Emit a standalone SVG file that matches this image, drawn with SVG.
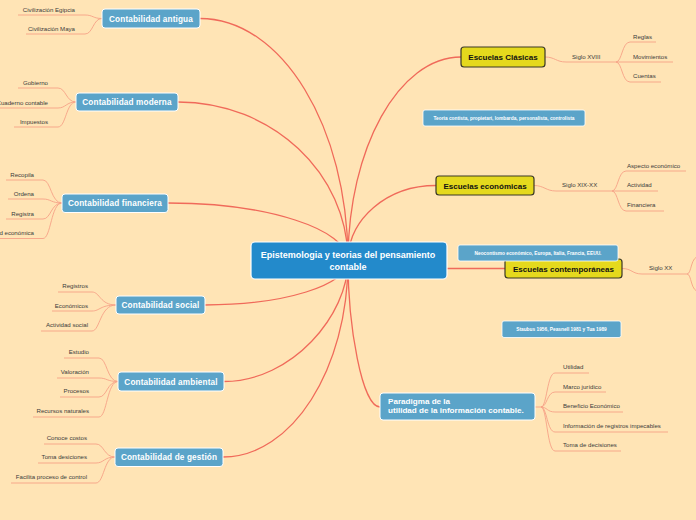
<svg xmlns="http://www.w3.org/2000/svg" width="696" height="520" viewBox="0 0 696 520">
<style>
.bg{fill:#FFE4B5}
.main{fill:none;stroke:#F06A5A;stroke-width:1.3}
.sub{fill:none;stroke:#F6A287;stroke-width:0.9}
.blue{fill:#5BA4C9;stroke:#FFFFFF;stroke-width:1}
.center{fill:#238ACB;stroke:#FFFFFF;stroke-width:1.2}
.yellow{fill:#E5D91D;stroke:#3A3826;stroke-width:1.2}
.lbl{fill:#5BA4C9;stroke:#FFFFFF;stroke-width:0.8}
.bt{font-family:"Liberation Sans",Arial,sans-serif;font-weight:bold;font-size:8.2px;fill:#FFFFFF;text-anchor:middle;letter-spacing:0.15px}
.pt{font-family:"Liberation Sans",Arial,sans-serif;font-weight:bold;font-size:8.1px;fill:#FFFFFF;text-anchor:start}
.ct{font-family:"Liberation Sans",Arial,sans-serif;font-weight:bold;font-size:9px;fill:#FFFFFF;text-anchor:middle}
.yt{font-family:"Liberation Sans",Arial,sans-serif;font-weight:bold;font-size:8px;fill:#111111;text-anchor:middle}
.lt{font-family:"Liberation Sans",Arial,sans-serif;font-weight:bold;font-size:4.8px;fill:#FFFFFF;text-anchor:middle}
.st{font-family:"Liberation Sans",Arial,sans-serif;font-size:6.1px;fill:#3B3B3B}
.sl{text-anchor:end}
</style>
<rect class="bg" x="0" y="0" width="696" height="520"/>

<g id="connectors">
  <path class="main" d="M200,18.5 C282,18.5 348,127 348,261"/>
  <path class="main" d="M178,102 C272,102 348,173 348,261"/>
  <path class="main" d="M168,203 C267,203 348,229 348,261"/>
  <path class="main" d="M205,305 C284,305 348,285 348,261"/>
  <path class="main" d="M224,381.5 C292,381.5 348,315 348,261"/>
  <path class="main" d="M223,457 C292,457 348,369 348,261"/>
  <path class="main" d="M380,407 C362,407 348,326 348,261"/>
  <path class="main" d="M461,57 C399,57 348,148 348,261"/>
  <path class="main" d="M436,185.5 C387,185.5 348,219 348,261"/>
  <path class="main" d="M348,268.5 H505"/>

  <path class="sub" d="M18,15 H85 C93,15 93,18.5 102,18.5"/>
  <path class="sub" d="M26,34 H85 C93,34 93,18.5 102,18.5"/>

  <path class="sub" d="M18,88 H58 C66,88 66,102 76,102"/>
  <path class="sub" d="M-5,108 H58 C66,108 66,102 76,102"/>
  <path class="sub" d="M14,127 H58 C66,127 66,102 76,102"/>

  <path class="sub" d="M6,180 H43 C51,180 51,203 62,203"/>
  <path class="sub" d="M8,199 H43 C51,199 51,203 62,203"/>
  <path class="sub" d="M6,219 H43 C51,219 51,203 62,203"/>
  <path class="sub" d="M-40,238.5 H43 C51,238.5 51,203 62,203"/>

  <path class="sub" d="M58,292 H92 C100,292 100,305 116,305"/>
  <path class="sub" d="M52,311 H92 C100,311 100,305 116,305"/>
  <path class="sub" d="M41,331 H92 C100,331 100,305 116,305"/>

  <path class="sub" d="M64,358 H99 C107,358 107,381.5 118,381.5"/>
  <path class="sub" d="M57,378 H99 C107,378 107,381.5 118,381.5"/>
  <path class="sub" d="M60,397 H99 C107,397 107,381.5 118,381.5"/>
  <path class="sub" d="M33,417 H99 C107,417 107,381.5 118,381.5"/>

  <path class="sub" d="M44,444 H96 C104,444 104,457 115,457"/>
  <path class="sub" d="M38,463 H96 C104,463 104,457 115,457"/>
  <path class="sub" d="M11,483 H96 C104,483 104,457 115,457"/>

  <path class="sub" d="M545,57 C555,57 556,62 566,62 H616"/>
  <path class="sub" d="M616,62 C622,62 622,42 630,42 H656"/>
  <path class="sub" d="M616,62 H673"/>
  <path class="sub" d="M616,62 C622,62 622,82 630,82 H661"/>

  <path class="sub" d="M534,185.5 C544,185.5 546,191 556,191 H612"/>
  <path class="sub" d="M612,191 C618,191 618,171 626,171 H686"/>
  <path class="sub" d="M612,191 H658"/>
  <path class="sub" d="M612,191 C618,191 618,211 626,211 H664"/>

  <path class="sub" d="M622,268.5 C632,268.5 632,274 642,274 H687"/>
  <path class="sub" d="M687,274 C692,274 690,256 700,256"/>
  <path class="sub" d="M687,274 C692,274 690,292 700,292"/>

  <path class="sub" d="M535,407 H541 C547,407 547,373 555,373 H589"/>
  <path class="sub" d="M541,407 C547,407 547,392 555,392 H606"/>
  <path class="sub" d="M541,407 C547,407 547,412 555,412 H623"/>
  <path class="sub" d="M541,407 C547,407 547,432 555,432 H668"/>
  <path class="sub" d="M541,407 C547,407 547,451 555,451 H621"/>
</g>

<g id="central">
  <rect class="center" x="251" y="242" width="196" height="37" rx="4"/>
  <text class="ct" x="348" y="258">Epistemologia y teorias del pensamiento</text>
  <text class="ct" x="348" y="269.5">contable</text>
</g>

<g id="antigua">
  <rect class="blue" x="102" y="9" width="98" height="19" rx="3"/>
  <text class="bt" x="151" y="21.5">Contabilidad antigua</text>
</g>
<g id="antigua-items">
  <text class="st sl" x="75" y="12">Civilización Egipcia</text>
  <text class="st sl" x="75" y="31">Civilización Maya</text>
</g>

<g id="moderna">
  <rect class="blue" x="76" y="93" width="102" height="18" rx="3"/>
  <text class="bt" x="127" y="105">Contabilidad moderna</text>
</g>
<g id="moderna-items">
  <text class="st sl" x="48" y="85">Gobierno</text>
  <text class="st sl" x="48" y="104.5">Cuaderno contable</text>
  <text class="st sl" x="48" y="124">Impuestos</text>
</g>

<g id="financiera">
  <rect class="blue" x="62" y="194" width="106" height="18.5" rx="3"/>
  <text class="bt" x="115" y="206.2">Contabilidad financiera</text>
</g>
<g id="financiera-items">
  <text class="st sl" x="34" y="177">Recopila</text>
  <text class="st sl" x="34" y="196">Ordena</text>
  <text class="st sl" x="34" y="215.5">Registra</text>
  <text class="st sl" x="34" y="235">Actividad económica</text>
</g>

<g id="social">
  <rect class="blue" x="116" y="296" width="89" height="18" rx="3"/>
  <text class="bt" x="160.5" y="308">Contabilidad social</text>
</g>
<g id="social-items">
  <text class="st sl" x="88" y="288">Registros</text>
  <text class="st sl" x="88" y="307.5">Económicos</text>
  <text class="st sl" x="88" y="327">Actividad social</text>
</g>

<g id="ambiental">
  <rect class="blue" x="118" y="372" width="106" height="19" rx="3"/>
  <text class="bt" x="171" y="384.5">Contabilidad ambiental</text>
</g>
<g id="ambiental-items">
  <text class="st sl" x="89" y="354">Estudio</text>
  <text class="st sl" x="89" y="374">Valoración</text>
  <text class="st sl" x="89" y="393">Procesos</text>
  <text class="st sl" x="89" y="413">Recursos naturales</text>
</g>

<g id="gestion">
  <rect class="blue" x="115" y="448" width="108" height="18.5" rx="3"/>
  <text class="bt" x="169" y="460.2">Contabilidad de gestión</text>
</g>
<g id="gestion-items">
  <text class="st sl" x="87" y="440">Conoce costos</text>
  <text class="st sl" x="87" y="459">Toma desiciones</text>
  <text class="st sl" x="87" y="479">Facilita proceso de control</text>
</g>

<g id="clasicas">
  <rect class="yellow" x="461" y="47" width="84" height="20" rx="3"/>
  <text class="yt" x="503" y="60">Escuelas Clásicas</text>
</g>
<g id="clasicas-items">
  <text class="st" x="572" y="58.5">Siglo XVIII</text>
  <text class="st" x="633" y="39">Reglas</text>
  <text class="st" x="633" y="58.5">Movimientos</text>
  <text class="st" x="633" y="78">Cuentas</text>
</g>

<g id="teoria">
  <rect class="lbl" x="423" y="110" width="162" height="16" rx="2"/>
  <text class="lt" x="504" y="119.8">Teoria contista, propietari, lombarda, personalista, controlista</text>
</g>

<g id="economicas">
  <rect class="yellow" x="436" y="176" width="98" height="19" rx="3"/>
  <text class="yt" x="485" y="188.5">Escuelas económicas</text>
</g>
<g id="economicas-items">
  <text class="st" x="562" y="187">Siglo XIX-XX</text>
  <text class="st" x="627" y="167.5">Aspecto económico</text>
  <text class="st" x="627" y="187">Actividad</text>
  <text class="st" x="627" y="207">Financiera</text>
</g>

<g id="contemporaneas">
  <rect class="yellow" x="505" y="259" width="117" height="19" rx="3"/>
  <text class="yt" x="563.5" y="271.5">Escuelas contemporáneas</text>
</g>
<g id="contemporaneas-items">
  <text class="st" x="649" y="270">Siglo XX</text>
</g>

<g id="neocontismo">
  <rect class="lbl" x="458" y="245" width="160" height="16" rx="2"/>
  <text class="lt" x="538" y="254.8">Neocontismo económico, Europa, Italia, Francia, EEUU.</text>
</g>

<g id="staubus">
  <rect class="lbl" x="502" y="321" width="119" height="16.5" rx="2"/>
  <text class="lt" x="561.5" y="331">Staubus 1956, Peasnell 1981 y Tua 1989</text>
</g>

<g id="paradigma">
  <rect class="blue" x="380" y="393" width="155" height="27" rx="3"/>
  <text class="pt" x="388" y="404">Paradigma de la</text>
  <text class="pt" x="388" y="412.8">utilidad de la información contable.</text>
</g>
<g id="paradigma-items">
  <text class="st" x="563" y="369">Utilidad</text>
  <text class="st" x="563" y="388.5">Marco jurídico</text>
  <text class="st" x="563" y="408">Beneficio Económico</text>
  <text class="st" x="563" y="428">Información de registros impecables</text>
  <text class="st" x="563" y="447">Toma de decisiones</text>
</g>
</svg>
